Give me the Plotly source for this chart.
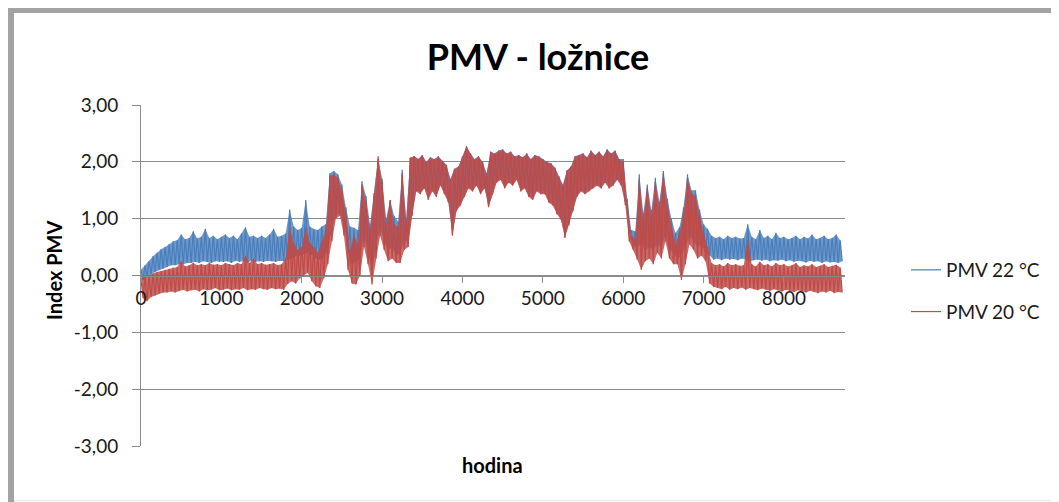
import plotly.graph_objects as go

# ---- data: for every 50-hour block a local maximum
#      (at the block start) and a local minimum (25 h later) ----
hodina = list(range(0, 8750, 25))

pmv22_max = [
    0.10, 0.18, 0.25, 0.34, 0.40, 0.46, 0.50, 0.55, 0.60, 0.62,
    0.72, 0.64, 0.66, 0.78, 0.65, 0.68, 0.82, 0.66, 0.70, 0.64,
    0.68, 0.72, 0.66, 0.70, 0.64, 0.74, 0.85, 0.68, 0.70, 0.66,
    0.70, 0.66, 0.72, 0.82, 0.68, 0.70, 0.74, 1.16, 0.86, 0.80,
    0.84, 1.33, 0.86, 0.82, 0.80, 0.86, 0.90, 1.80, 1.84, 1.78,
    1.60, 1.20, 0.86, 0.84, 0.80, 1.66, 1.40, 0.90, 1.45, 2.05,
    1.70, 1.00, 1.33, 1.05, 0.95, 1.86, 1.00, 2.07, 2.10, 2.05,
    2.12, 2.00, 2.08, 2.05, 2.10, 2.02, 1.95, 1.70, 1.88, 1.92,
    2.10, 2.28, 2.15, 2.05, 2.10, 2.00, 1.80, 2.18, 2.15, 2.20,
    2.22, 2.15, 2.18, 2.10, 2.12, 2.08, 2.15, 2.05, 2.12, 2.10,
    2.05, 2.00, 1.98, 1.90, 1.75, 1.60, 1.85, 1.92, 2.10, 2.12,
    2.15, 2.08, 2.20, 2.12, 2.18, 2.10, 2.22, 2.15, 2.20, 2.05,
    2.05, 1.35, 0.80, 0.78, 1.78, 1.10, 1.60, 1.15, 1.72, 1.30,
    1.84, 1.35, 1.00, 0.75, 0.85, 1.20, 1.78, 1.50, 1.50, 1.16,
    0.90, 0.82, 0.70, 0.66, 0.68, 0.64, 0.70, 0.66, 0.68, 0.65,
    0.66, 0.90, 0.68, 0.64, 0.80, 0.66, 0.70, 0.64, 0.75, 0.66,
    0.68, 0.64, 0.66, 0.70, 0.64, 0.68, 0.65, 0.72, 0.64, 0.66,
    0.70, 0.64, 0.66, 0.72, 0.62]
pmv22_min = [
    -0.08, -0.02, 0.02, 0.06, 0.10, 0.12, 0.15, 0.18, 0.18, 0.20,
    0.20, 0.22, 0.22, 0.24, 0.22, 0.25, 0.24, 0.22, 0.25, 0.24,
    0.24, 0.25, 0.22, 0.26, 0.24, 0.25, 0.23, 0.26, 0.24, 0.25,
    0.24, 0.26, 0.25, 0.24, 0.26, 0.25, 0.28, 0.30, 0.34, 0.35,
    0.38, 0.40, 0.36, 0.30, 0.28, 0.30, 0.45, 0.80, 1.05, 1.10,
    0.90, 0.40, 0.20, 0.25, 0.30, 0.70, 0.40, 0.10, 0.45, 0.85,
    0.60, 0.45, 0.50, 0.35, 0.40, 0.60, 0.60, 1.10, 1.50, 1.45,
    1.55, 1.35, 1.50, 1.40, 1.60, 1.45, 1.30, 0.72, 1.15, 1.25,
    1.40, 1.55, 1.50, 1.60, 1.45, 1.55, 1.22, 1.45, 1.65, 1.70,
    1.55, 1.65, 1.60, 1.70, 1.50, 1.55, 1.40, 1.35, 1.50, 1.45,
    1.45, 1.30, 1.25, 1.10, 1.00, 0.68, 0.90, 1.15, 1.40, 1.50,
    1.45, 1.50, 1.55, 1.60, 1.55, 1.65, 1.55, 1.60, 1.70, 1.60,
    1.30, 0.75, 0.55, 0.50, 0.55, 0.45, 0.50, 0.45, 0.55, 0.50,
    0.70, 0.45, 0.40, 0.30, 0.35, 0.50, 0.70, 0.60, 0.50, 0.55,
    0.40, 0.35, 0.28, 0.30, 0.27, 0.30, 0.28, 0.29, 0.27, 0.30,
    0.28, 0.25, 0.27, 0.28, 0.26, 0.28, 0.25, 0.27, 0.26, 0.28,
    0.25, 0.27, 0.24, 0.26, 0.25, 0.23, 0.26, 0.24, 0.25, 0.22,
    0.25, 0.23, 0.24, 0.22, 0.25]
pmv20_max = [
    -0.05, -0.02, 0.00, 0.04, 0.06, 0.08, 0.10, 0.12, 0.14, 0.15,
    0.25, 0.16, 0.18, 0.22, 0.18, 0.20, 0.18, 0.22, 0.19, 0.20,
    0.18, 0.22, 0.20, 0.18, 0.22, 0.20, 0.35, 0.22, 0.30, 0.20,
    0.22, 0.19, 0.20, 0.22, 0.18, 0.20, 0.30, 0.84, 0.57, 0.45,
    0.50, 0.84, 0.57, 0.50, 0.40, 0.60, 0.80, 1.75, 1.78, 1.72,
    1.50, 1.10, 0.45, 0.70, 0.55, 1.60, 1.30, 0.80, 1.40, 2.10,
    1.65, 0.90, 1.33, 0.90, 0.85, 1.80, 0.95, 2.07, 2.10, 2.05,
    2.11, 1.99, 2.07, 2.04, 2.09, 2.01, 1.94, 1.68, 1.87, 1.91,
    2.09, 2.27, 2.14, 2.04, 2.09, 1.99, 1.78, 2.17, 2.14, 2.19,
    2.21, 2.14, 2.17, 2.09, 2.11, 2.07, 2.14, 2.04, 2.11, 2.09,
    2.04, 1.99, 1.97, 1.89, 1.73, 1.58, 1.84, 1.91, 2.09, 2.11,
    2.14, 2.07, 2.19, 2.11, 2.17, 2.09, 2.21, 2.14, 2.19, 2.04,
    2.00, 1.25, 0.70, 0.65, 1.70, 1.00, 1.55, 1.05, 1.65, 1.20,
    1.80, 1.25, 0.90, 0.55, 0.75, 1.10, 1.72, 1.45, 1.40, 1.05,
    0.75, 0.50, 0.22, 0.18, 0.20, 0.16, 0.22, 0.18, 0.20, 0.17,
    0.18, 0.63, 0.20, 0.16, 0.24, 0.18, 0.20, 0.16, 0.22, 0.18,
    0.20, 0.16, 0.18, 0.22, 0.15, 0.18, 0.16, 0.20, 0.15, 0.17,
    0.20, 0.15, 0.17, 0.19, 0.14]
pmv20_min = [
    -0.40, -0.45, -0.38, -0.35, -0.32, -0.30, -0.30, -0.28, -0.30, -0.27,
    -0.25, -0.28, -0.26, -0.25, -0.28, -0.24, -0.26, -0.25, -0.22, -0.26,
    -0.25, -0.23, -0.26, -0.24, -0.25, -0.22, -0.26, -0.24, -0.25, -0.22,
    -0.24, -0.25, -0.22, -0.24, -0.23, -0.25, -0.15, -0.10, -0.14, -0.05,
    0.00, 0.05, -0.10, -0.19, -0.22, -0.05, 0.20, 0.60, 1.00, 1.05,
    0.70, 0.10, -0.14, -0.16, 0.00, 0.50, 0.20, -0.16, 0.30, 0.70,
    0.45, 0.25, 0.30, 0.22, 0.22, 0.45, 0.50, 1.05, 1.48, 1.43,
    1.53, 1.33, 1.48, 1.38, 1.58, 1.43, 1.28, 0.70, 1.13, 1.23,
    1.38, 1.53, 1.48, 1.58, 1.43, 1.53, 1.20, 1.43, 1.63, 1.68,
    1.53, 1.63, 1.58, 1.68, 1.48, 1.53, 1.38, 1.33, 1.48, 1.43,
    1.43, 1.28, 1.23, 1.08, 0.98, 0.66, 0.88, 1.13, 1.38, 1.48,
    1.43, 1.48, 1.53, 1.58, 1.53, 1.63, 1.53, 1.58, 1.68, 1.58,
    1.25, 0.60, 0.45, 0.28, 0.10, 0.25, 0.30, 0.20, 0.40, 0.30,
    0.60, 0.30, 0.20, 0.20, -0.08, 0.20, 0.55, 0.45, 0.30, 0.35,
    0.25, -0.14, -0.20, -0.22, -0.24, -0.20, -0.25, -0.22, -0.24, -0.21,
    -0.25, -0.22, -0.24, -0.26, -0.23, -0.25, -0.27, -0.24, -0.26, -0.28,
    -0.25, -0.27, -0.29, -0.26, -0.28, -0.30, -0.27, -0.29, -0.31, -0.28,
    -0.30, -0.27, -0.31, -0.29, -0.30]

x_ticks = [0, 1000, 2000, 3000, 4000, 5000, 6000, 7000, 8000]
y_ticks = [-3, -2, -1, 0, 1, 2, 3]
y_tick_text = ["-3,00", "-2,00", "-1,00", "0,00", "1,00", "2,00", "3,00"]
series_names = ["PMV 22 °C", "PMV 20 °C"]
series_colors = ["#4A7EBB", "#BE4B48"]
series_fills = ["rgba(74,126,187,0.80)", "rgba(190,75,72,0.82)"]


def interleave(a, b):
    out = []
    for p, q in zip(a, b):
        out.extend([p, q])
    return out


x_max = hodina[0::2]
x_min = hodina[1::2]

# ---- layout geometry (figure pixels; page has an 8 px body margin) ----
W, H = 1051, 494
ML, MR, MT, MB = 133, 214, 97, 56
PW, PH = W - ML - MR, H - MT - MB


def px(xp):
    return (xp - ML) / PW


def py(yp):
    return (H - MB - yp) / PH


FONT = "Lato, 'Open Sans', sans-serif"
GRID = "#8c8c8c"
TXT = "#1a1a1a"

fig = go.Figure()
for name, vmax, vmin, col, fcol, grp in [
        (series_names[0], pmv22_max, pmv22_min, series_colors[0], series_fills[0], "a"),
        (series_names[1], pmv20_max, pmv20_min, series_colors[1], series_fills[1], "b")]:
    # band between the daily maxima and minima
    fig.add_trace(go.Scatter(x=x_max + x_min[::-1], y=vmax + vmin[::-1],
                             mode="lines", fill="toself", fillcolor=fcol,
                             line=dict(width=0, color=col), hoverinfo="skip",
                             showlegend=False, legendgroup=grp))
    # the oscillating series itself
    fig.add_trace(go.Scatter(x=hodina, y=interleave(vmax, vmin), mode="lines",
                             name=name, legendgroup=grp,
                             line=dict(color=col, width=1.2)))

fig.update_layout(
    width=W, height=H,
    margin=dict(l=ML, r=MR, t=MT, b=MB),
    paper_bgcolor="white", plot_bgcolor="white",
    font=dict(family=FONT, size=19, color=TXT),
    title=dict(text="<b>PMV - ložnice</b>", x=530 / W, xref="container",
               xanchor="center", y=1 - 49 / H, yref="container", yanchor="middle",
               font=dict(family=FONT, size=36, color="black")),
    showlegend=True,
    legend=dict(x=px(898), y=py(283), xanchor="left", yanchor="middle",
                font=dict(family=FONT, size=19, color=TXT),
                tracegroupgap=14, bgcolor="rgba(0,0,0,0)"),
    xaxis=dict(range=[0, 8760], tickvals=x_ticks, tickformat="d",
               anchor="free", position=0.5,
               showline=True, linecolor=GRID, linewidth=1,
               ticks="outside", ticklen=6, tickcolor=GRID,
               showgrid=False, zeroline=False,
               tickfont=dict(family=FONT, size=19, color=TXT)),
    yaxis=dict(range=[-3, 3], tickvals=y_ticks, ticktext=y_tick_text,
               showline=True, linecolor=GRID, linewidth=1,
               ticks="outside", ticklen=8, tickcolor=GRID,
               ticklabelstandoff=10,
               showgrid=True, gridcolor=GRID, gridwidth=1, zeroline=False,
               tickfont=dict(family=FONT, size=19, color=TXT)),
)

fig.add_annotation(text="<b>Index PMV</b>", xref="paper", yref="paper",
                   x=px(46), y=py(262), xanchor="center", yanchor="middle",
                   textangle=-90, showarrow=False,
                   font=dict(family=FONT, size=20, color="black"))
fig.add_annotation(text="<b>hodina</b>", xref="paper", yref="paper",
                   x=px(484), y=py(457), xanchor="center", yanchor="middle",
                   showarrow=False,
                   font=dict(family=FONT, size=20, color="black"))

# chart frame (Excel-style chart border)
fig.add_shape(type="line", xref="paper", yref="paper",
              x0=px(0), x1=px(1060), y0=py(2), y1=py(2),
              line=dict(color="#a3a3a3", width=6))
fig.add_shape(type="line", xref="paper", yref="paper",
              x0=px(3), x1=px(3), y0=py(0), y1=py(500),
              line=dict(color="#a3a3a3", width=6))
fig.add_shape(type="line", xref="paper", yref="paper",
              x0=px(6), x1=px(1060), y0=py(492.5), y1=py(492.5),
              line=dict(color="#e6e6e6", width=1))

fig.write_html("out.html")
